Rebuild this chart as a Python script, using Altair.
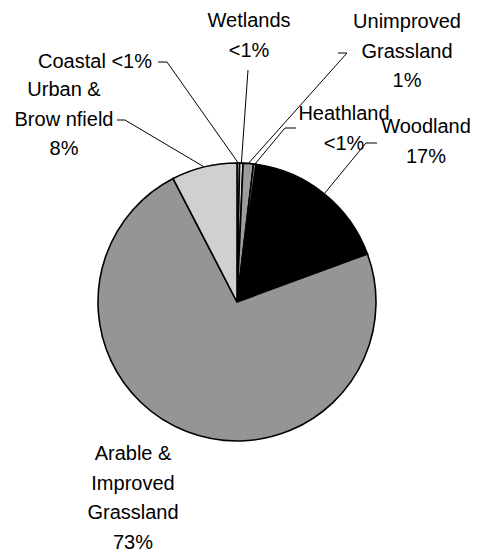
import altair as alt
import pandas as pd

# ---- data ----
categories = ["Coastal", "Wetlands", "Unimproved Grassland", "Heathland",
              "Woodland", "Arable & Improved Grassland", "Urban & Brownfield"]
shares = [0.3, 0.4, 1.2, 0.3, 17.2, 73.0, 7.6]
label_texts = ["Coastal <1%", "Wetlands\n<1%", "Unimproved\nGrassland\n1%",
               "Heathland\n<1%", "Woodland\n17%",
               "Arable &\nImproved\nGrassland\n73%", "Urban &\nBrow nfield\n8%"]

# ---- styles ----
fills = ["#c8c8c8", "#d8d8d8", "#9c9c9c", "#8a8a8a", "#000000", "#959595", "#d0d0d0"]

# ---- layout (page pixels) ----
W, H = 463, 544
CX, CY, R = 237, 302, 139
# label anchor: centre x, first baseline y
label_x = [95, 249, 407, 344, 426, 133, 64]
label_y = [68, 27, 28, 120, 133, 460, 96]
# leader: knee point, dash end x, whether a leader is drawn
knee_x = [167, 248, 347, 285, 366, 0, 125]
knee_y = [62, 70, 53, 128, 143, 0, 120]
dash_x = [158, 248, 338, 296, 377, 0, 117]
has_leader = [True, True, True, True, True, False, True]


def ux(px):
    return (px - CX) / R


def uy(py):
    return (CY - py) / R


df = pd.DataFrame({
    "category": categories,
    "share": shares,
    "label": label_texts,
    "order": list(range(len(categories))),
    "lx": [ux(v) for v in label_x],
    "ly": [uy(v) for v in label_y],
    "kx": [ux(v) for v in knee_x],
    "ky": [uy(v) for v in knee_y],
    "dx": [ux(v) for v in dash_x],
    "leader": has_leader,
})

ox, oy = 8, 8  # page margin
xscale = alt.Scale(domain=[ux(ox), ux(ox + W)], nice=False, zero=False)
yscale = alt.Scale(domain=[uy(oy + H), uy(oy)], nice=False, zero=False)

base = alt.Chart(df)

pie = base.mark_arc(outerRadius=R, stroke="#000000", strokeWidth=1.6).encode(
    theta=alt.Theta("share:Q", stack=True),
    color=alt.Color("category:N", scale=alt.Scale(domain=categories, range=fills), legend=None),
    order=alt.Order("order:Q"),
    x=alt.value(CX - ox),
    y=alt.value(CY - oy),
)

edges = base.transform_joinaggregate(
    total="sum(share)"
).transform_window(
    cum="sum(share)", sort=[alt.SortField("order")], frame=[None, 0]
).transform_calculate(
    mid="(datum.cum - datum.share/2) / datum.total * 2 * PI",
    ex="sin(datum.mid)",
    ey="cos(datum.mid)",
).transform_filter("datum.leader")

leader_diag = edges.mark_rule(color="#000000", strokeWidth=1).encode(
    x=alt.X("ex:Q", scale=xscale, axis=None),
    y=alt.Y("ey:Q", scale=yscale, axis=None),
    x2="kx:Q",
    y2="ky:Q",
)

leader_dash = edges.mark_rule(color="#000000", strokeWidth=1).encode(
    x=alt.X("kx:Q", scale=xscale, axis=None),
    y=alt.Y("ky:Q", scale=yscale, axis=None),
    x2="dx:Q",
)

labels = base.mark_text(
    align="center", baseline="alphabetic", lineBreak="\n", lineHeight=29.5,
    fontSize=20, font="Liberation Sans", color="#000000"
).encode(
    x=alt.X("lx:Q", scale=xscale, axis=None),
    y=alt.Y("ly:Q", scale=yscale, axis=None),
    text="label:N",
)

chart = alt.layer(pie, leader_diag, leader_dash, labels).properties(
    width=W, height=H,
    autosize=alt.AutoSizeParams(type="none"),
    padding=0,
    background="white",
).configure_view(stroke=None)

chart.save("out.html", embed_options={"renderer": "svg", "actions": False})
